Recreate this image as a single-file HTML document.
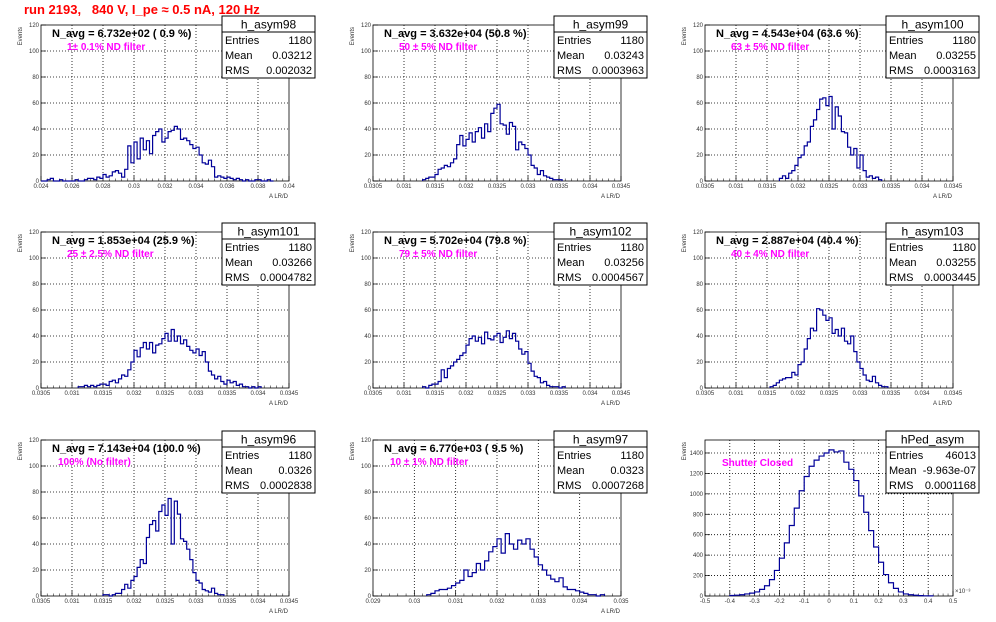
<!DOCTYPE html>
<html><head><meta charset="utf-8"><style>
body{margin:0;background:#fff}
svg{display:block;font-family:"Liberation Sans",sans-serif}
</style></head><body>
<svg id="c" width="996" height="622" viewBox="0 0 996 622">
<text x="24" y="14" font-size="13" font-weight="bold" fill="#ff0000">run 2193,&#160;&#160; 840 V, I_pe ≈ 0.5 nA, 120 Hz</text>
</svg>
<script>
// ---- data ----
const names = ["h_asym98","h_asym99","h_asym100","h_asym101","h_asym102","h_asym103","h_asym96","h_asym97","hPed_asym"];
const navgLabels = ["N_avg = 6.732e+02 ( 0.9 %)","N_avg = 3.632e+04 (50.8 %)","N_avg = 4.543e+04 (63.6 %)","N_avg = 1.853e+04 (25.9 %)","N_avg = 5.702e+04 (79.8 %)","N_avg = 2.887e+04 (40.4 %)","N_avg = 7.143e+04 (100.0 %)","N_avg = 6.770e+03 ( 9.5 %)",""];
const filterLabels = ["1\u00b1 0.1% ND filter","50 \u00b1 5% ND filter","63 \u00b1 5% ND filter","25 \u00b1 2.5% ND filter","79 \u00b1 5% ND filter","40 \u00b1 4% ND filter","100% (No filter)","10 \u00b1 1% ND filter","Shutter Closed"];
const entries = ["1180","1180","1180","1180","1180","1180","1180","1180","46013"];
const means = ["0.03212","0.03243","0.03255","0.03266","0.03256","0.03255","0.0326","0.0323","-9.963e-07"];
const rmsVals = ["0.002032","0.0003963","0.0003163","0.0004782","0.0004567","0.0003445","0.0002838","0.0007268","0.0001168"];
const xMin = [0.024,0.0305,0.0305,0.0305,0.0305,0.0305,0.0305,0.029,-0.5];
const xMax = [0.04,0.0345,0.0345,0.0345,0.0345,0.0345,0.0345,0.035,0.5];
const xStep = [0.002,0.0005,0.0005,0.0005,0.0005,0.0005,0.0005,0.001,0.1];
const xTickLabels = [
 ["0.024","0.026","0.028","0.03","0.032","0.034","0.036","0.038","0.04"],
 ["0.0305","0.031","0.0315","0.032","0.0325","0.033","0.0335","0.034","0.0345"],
 ["0.0305","0.031","0.0315","0.032","0.0325","0.033","0.0335","0.034","0.0345"],
 ["0.0305","0.031","0.0315","0.032","0.0325","0.033","0.0335","0.034","0.0345"],
 ["0.0305","0.031","0.0315","0.032","0.0325","0.033","0.0335","0.034","0.0345"],
 ["0.0305","0.031","0.0315","0.032","0.0325","0.033","0.0335","0.034","0.0345"],
 ["0.0305","0.031","0.0315","0.032","0.0325","0.033","0.0335","0.034","0.0345"],
 ["0.029","0.03","0.031","0.032","0.033","0.034","0.035"],
 ["-0.5","-0.4","-0.3","-0.2","-0.1","0","0.1","0.2","0.3","0.4","0.5"]];
const yMax = [120,120,120,120,120,120,120,120,1527];
const yTickLabels = [
 ["0","20","40","60","80","100","120"],["0","20","40","60","80","100","120"],["0","20","40","60","80","100","120"],
 ["0","20","40","60","80","100","120"],["0","20","40","60","80","100","120"],["0","20","40","60","80","100","120"],
 ["0","20","40","60","80","100","120"],["0","20","40","60","80","100","120"],
 ["0","200","400","600","800","1000","1200","1400"]];
const binWidth = [0.0002,0.00005,0.00005,0.00005,0.00005,0.00005,0.00005,0.0001,0.02];
const firstBin = [0,16,24,12,16,21,20,13,5];
const counts98 = [0,0,1,2,0,0,1,0,0,0,0,1,0,0,1,2,2,1,3,2,5,3,4,7,8,6,3,9,27,14,30,17,33,24,31,21,35,38,40,30,33,38,39,42,40,32,33,31,28,25,26,20,14,13,16,11,3,4,3,2,3,2,1,2,1,0,1,0,0,1,1,0,0,1,0];
const counts99 = [1,2,3,3,5,9,10,12,11,14,17,28,35,27,32,37,30,38,41,33,44,38,52,56,59,44,43,36,45,42,24,30,28,25,20,12,10,5,8,4,3,2,1,1,1];
const counts100 = [2,4,2,6,8,12,18,20,27,30,42,47,55,63,64,58,65,40,57,50,38,37,26,20,25,10,20,8,3,4,2,3,1];
const counts101 = [1,1,2,1,2,1,2,3,3,2,5,6,4,7,10,9,14,20,29,24,31,35,30,35,27,33,34,38,42,36,45,36,40,34,37,32,29,27,30,25,28,20,13,10,7,9,5,3,6,4,5,2,3,1,1,0,1,0,1];
const counts102 = [1,0,2,3,3,5,14,8,15,17,20,22,25,27,33,38,40,36,39,34,43,38,37,40,42,35,39,44,38,42,36,30,26,28,19,13,9,8,4,5,2,1,1,1,0,1];
const counts103 = [1,2,4,6,7,8,8,12,10,18,20,30,38,46,44,61,60,56,52,54,42,45,40,46,36,34,40,28,20,15,10,6,5,9,4,2,1,1];
const counts96 = [1,1,0,1,2,2,5,9,6,12,15,22,28,25,45,55,58,50,65,70,62,75,40,73,63,44,42,36,28,18,12,10,5,4,3,6,2,1,1];
const counts97 = [1,2,4,5,5,6,8,10,12,20,15,18,25,20,27,34,38,44,33,48,40,36,43,40,44,36,30,24,20,16,13,11,14,7,5,5,4,3,2,1,1,0,1];
const countsPed = [5,8,12,20,28,40,65,100,160,250,370,520,690,860,1030,1170,1270,1330,1370,1400,1430,1410,1420,1310,1240,1130,980,820,640,480,330,210,130,75,40,20,12,7,4,2,1];
const allCounts = [counts98,counts99,counts100,counts101,counts102,counts103,counts96,counts97,countsPed];

// ---- layout ----
const NS="http://www.w3.org/2000/svg";
const svg=document.getElementById('c');
const colX=[41,373,705], rowY=[25,232,440], FW=248, FH=156;
function mk(tag,attrs,parent){const e=document.createElementNS(NS,tag);for(const k in attrs)e.setAttribute(k,attrs[k]);(parent||svg).appendChild(e);return e;}

for(let p=0;p<9;p++){
  const col=p%3,row=Math.floor(p/3);
  const fx=colX[col],fy=rowY[row];
  const g=mk('g',{});
  
  
  const xs=v=>fx+(v-xMin[p])/(xMax[p]-xMin[p])*FW;
  const ys=v=>fy+FH-v/yMax[p]*FH;
  const nx=xTickLabels[p].length;
  for(let i=0;i<nx;i++){
    const v=xMin[p]+i*xStep[p], x=xs(v);
    if(i>0&&i<nx-1){const gl=mk('line',{x1:x,y1:fy,x2:x,y2:fy+FH,stroke:'#000','stroke-width':0.8,'stroke-dasharray':'1,2'},g);
      }
    mk('line',{x1:x,y1:fy+FH,x2:x,y2:fy+FH-5,stroke:'#000','stroke-width':0.7},g);
    if(i<nx-1)for(let k=1;k<5;k++){const xm=xs(v+k*xStep[p]/5);mk('line',{x1:xm,y1:fy+FH,x2:xm,y2:fy+FH-2.5,stroke:'#000','stroke-width':0.5},g);}
    const t=mk('text',{x:x,y:fy+FH+7,'font-size':6,'text-anchor':'middle',fill:'#333'},g);
    t.textContent=xTickLabels[p][i];
    
  }
  const ny=yTickLabels[p].length;
  for(let i=0;i<ny;i++){
    const v=+yTickLabels[p][i], y=ys(v);
    if(i>0&&y>fy+1){const gl=mk('line',{x1:fx,y1:y,x2:fx+FW,y2:y,stroke:'#000','stroke-width':0.8,'stroke-dasharray':'1,2'},g);
      }
    mk('line',{x1:fx,y1:y,x2:fx+5,y2:y,stroke:'#000','stroke-width':0.7},g);
    const t=mk('text',{x:fx-2,y:y+2,'font-size':6,'text-anchor':'end',fill:'#333'},g);
    t.textContent=yTickLabels[p][i];
    
  }
  const fr=mk('rect',{x:fx,y:fy,width:FW,height:FH,fill:'none',stroke:'#000','stroke-width':0.8},g);
  
  const c=allCounts[p];let d='';
  for(let i=0;i<c.length;i++){
    const x0=xs(xMin[p]+(firstBin[p]+i)*binWidth[p]),x1=xs(xMin[p]+(firstBin[p]+i+1)*binWidth[p]),y=ys(c[i]);
    d+=(i===0?'M'+x0+','+ys(0)+'L':'L')+x0+','+y+'L'+x1+','+y;
  }
  const lastX=xs(xMin[p]+(firstBin[p]+c.length)*binWidth[p]);
  d+='L'+lastX+','+ys(0);
  const h=mk('path',{d:d,fill:'none',stroke:'#000099','stroke-width':1.2},g);
  
  const yt=mk('text',{x:0,y:0,'font-size':6,'text-anchor':'end',fill:'#333',transform:'translate('+(fx-19)+','+(fy+2)+') rotate(-90)'},g);
  yt.textContent='Events';
  const xt=mk('text',{x:fx+FW-1,y:fy+FH+17,'font-size':6,'text-anchor':'end',fill:'#333'},g);
  xt.textContent=p===8?'':'A LR/D';
  if(p===8){const ex=mk('text',{x:fx+FW+2,y:fy+FH-3,'font-size':6,fill:'#333'},g);ex.textContent='\u00d710\u207b\u00b3';
    }
  if(navgLabels[p]){const t=mk('text',{x:fx+11,y:fy+12,'font-size':11,'font-weight':'bold',fill:'#000'},g);t.textContent=navgLabels[p];
    }
  const fl=mk('text',{x:fx+(p>=6?17:26),y:fy+(p===8?26:25),'font-size':10,'font-weight':'bold',fill:'#ff00ff'},g);
  fl.textContent=filterLabels[p];
  const bx=fx+181,by=fy-9,bw=93,bh=62;
  const sb=mk('g',{},g);
  mk('rect',{x:bx,y:by,width:bw,height:bh,fill:'#fff',stroke:'#000','stroke-width':1},sb);
  mk('line',{x1:bx,y1:by+16,x2:bx+bw,y2:by+16,stroke:'#000','stroke-width':1},sb);
  const tt=mk('text',{x:bx+bw/2,y:by+12.5,'font-size':12,'text-anchor':'middle'},sb);tt.textContent=names[p];
  
  const rows=[['Entries',entries[p]],['Mean',means[p]],['RMS',rmsVals[p]]];
  rows.forEach((r,i)=>{
    const yy=by+28+i*15;
    const a=mk('text',{x:bx+3,y:yy,'font-size':11},sb);a.textContent=r[0];
    
    const b=mk('text',{x:bx+bw-3,y:yy,'font-size':11,'text-anchor':'end'},sb);b.textContent=r[1];
    
  });
}
</script>
</body></html>
